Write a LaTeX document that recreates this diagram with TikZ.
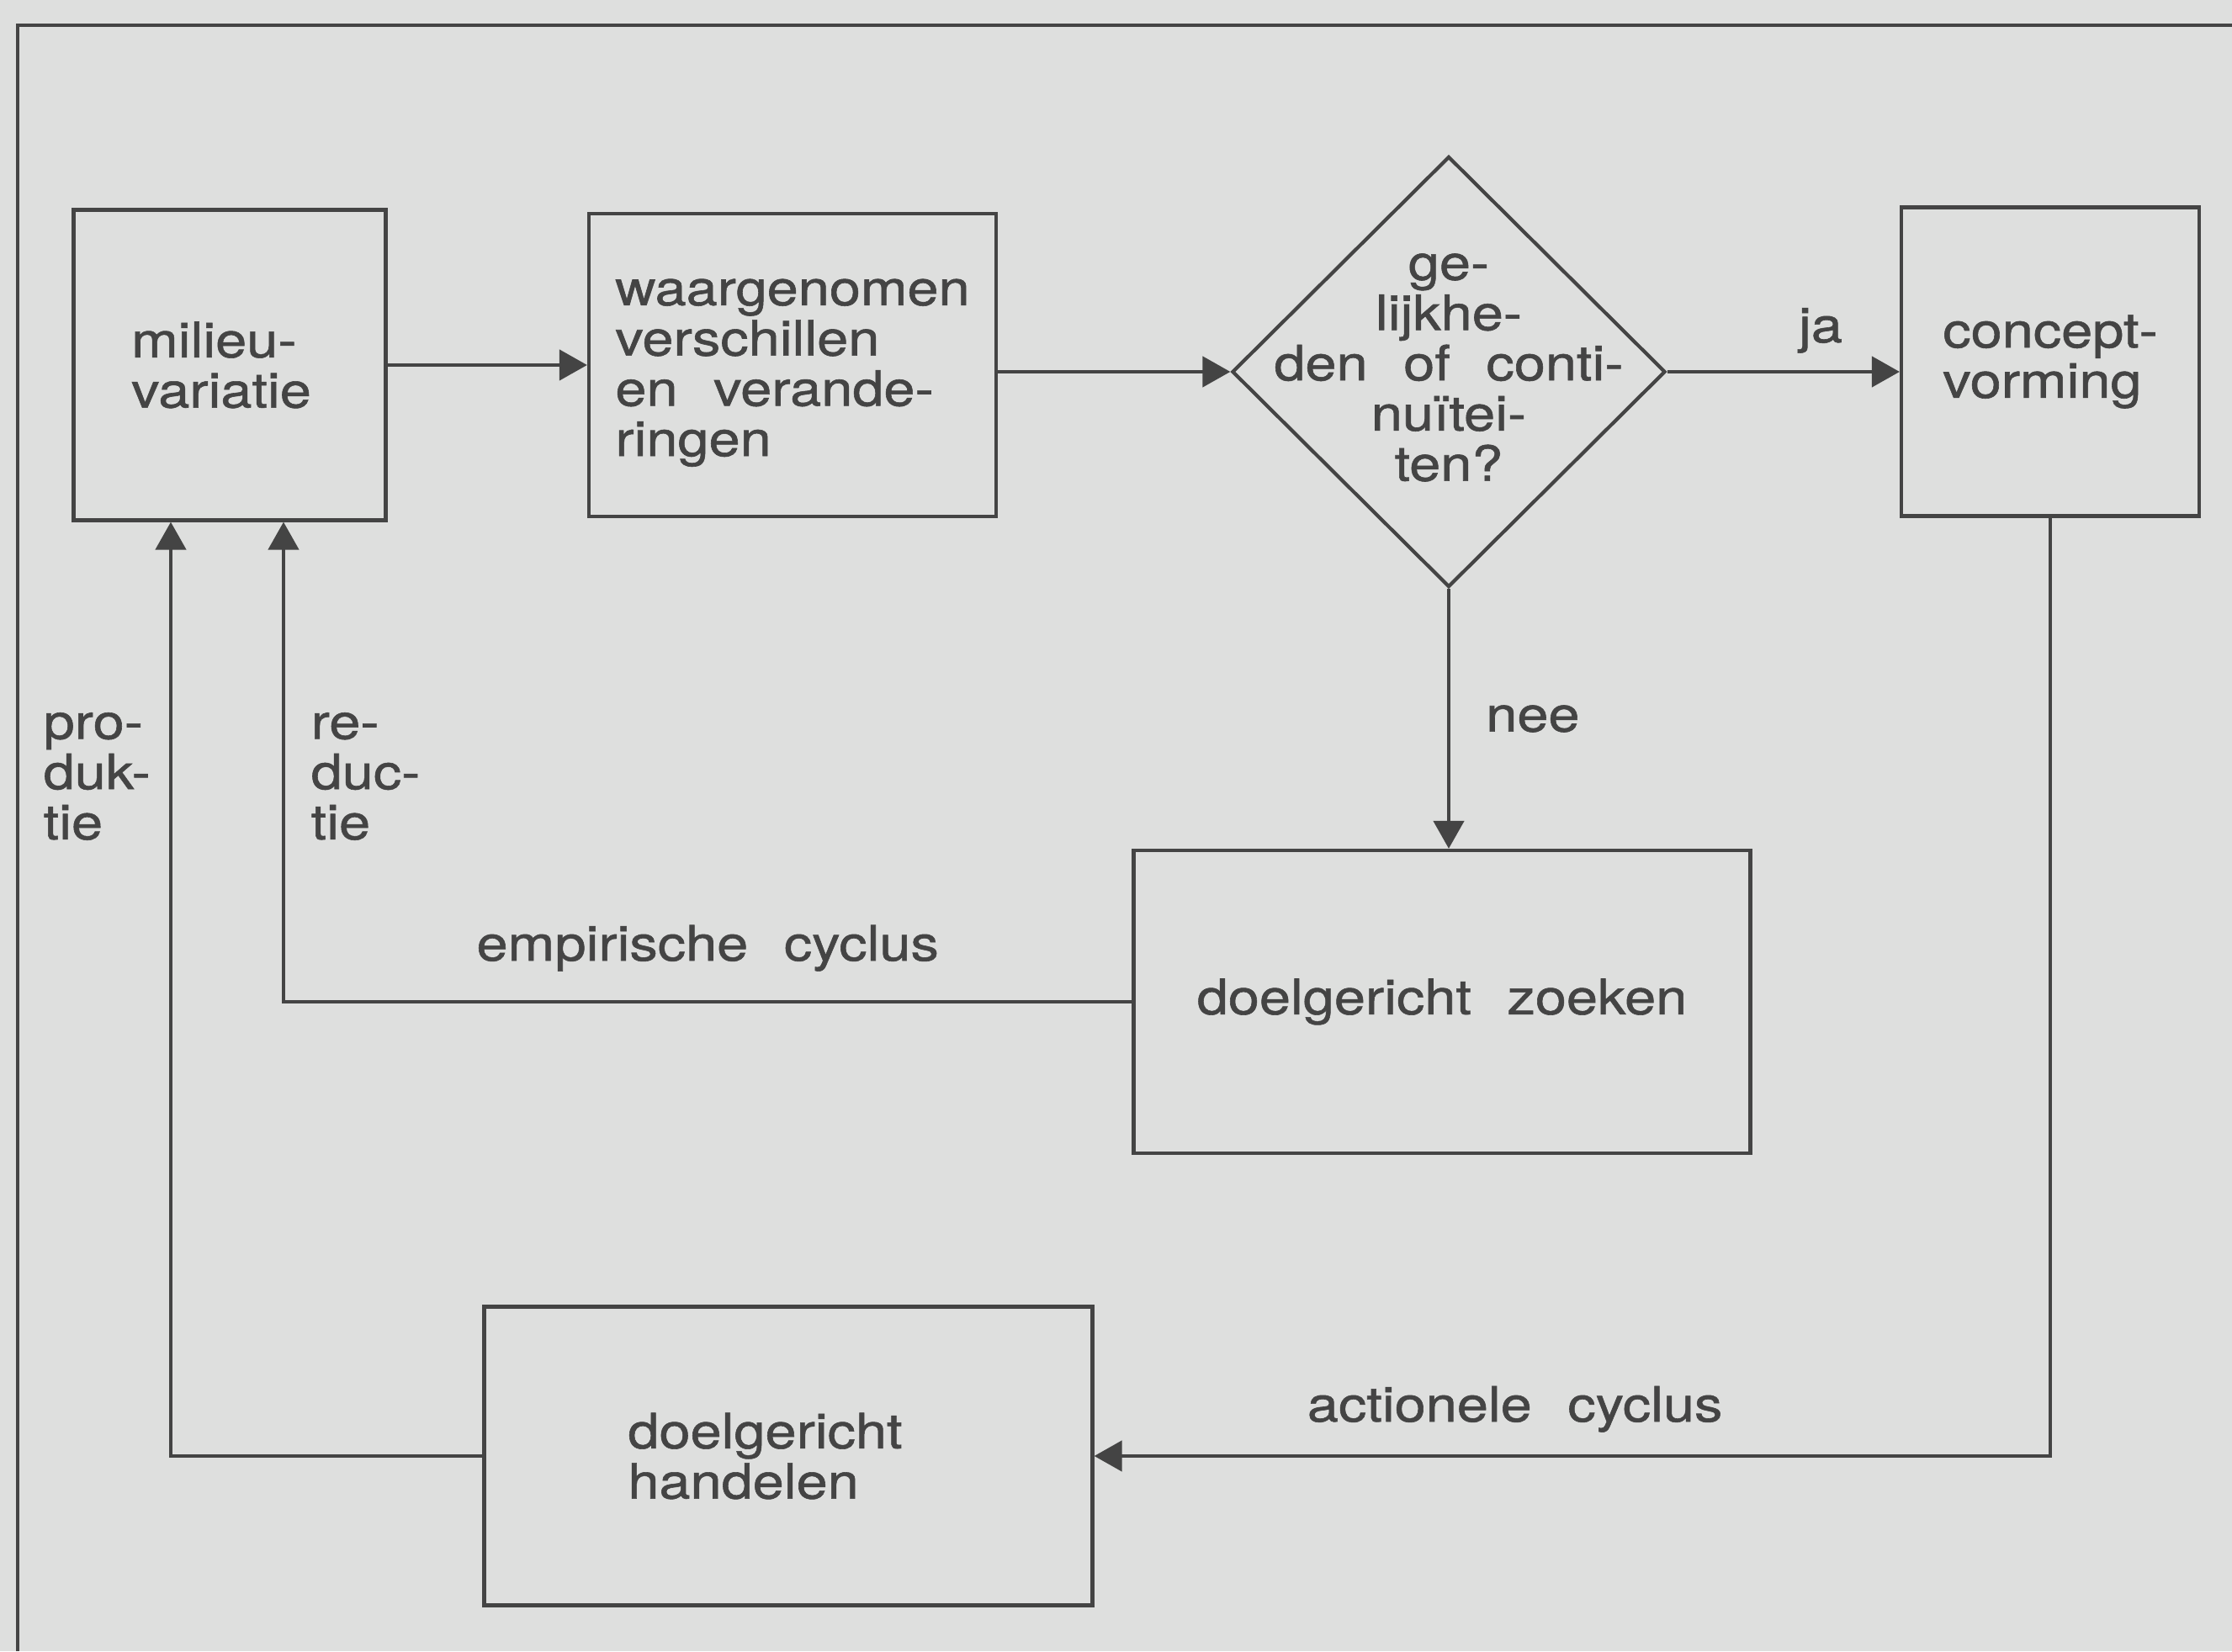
\documentclass[tikz,border=0pt]{standalone}
\usepackage{fontspec}
\setmainfont{TeX Gyre Heros}[FakeStretch=1.15, WordSpace=2.3, FakeBold=1]
\usetikzlibrary{arrows.meta,positioning,shapes.geometric,calc}
\definecolor{papercol}{RGB}{222,223,222}
\definecolor{inkcol}{RGB}{68,68,68}

\begin{document}
\begin{tikzpicture}[
    box/.style={draw=inkcol, line width=1.2pt, align=left, inner sep=0pt},
    decision/.style={draw=inkcol, line width=1.2pt, diamond, inner sep=0pt},
    flow/.style={draw=inkcol, line width=1.3pt, -{Triangle[length=3.3mm, width=3.6mm]}},
    lbl/.style={text=inkcol, inner sep=0pt},
    font=\fontsize{16.5}{17}\selectfont, text=inkcol,
]
\fill[papercol] (0,0) rectangle (26.53,19.63);
\useasboundingbox (0,0) rectangle (26.53,19.63);
\draw[inkcol, line width=1.3pt] (0.21,0) |- (26.53,19.33);

% bovenste rij
\node[box, minimum width=3.71cm, minimum height=3.69cm] (milieu) at (2.73,15.29) {milieu-\\variatie\hspace*{0.2cm}};
\node[box, minimum width=4.84cm, minimum height=3.60cm] (waarg)  at (9.42,15.29) {\\[-0.1cm]waargenomen\\verschillen\\en verande-\\ringen};
\node[decision, minimum width=5.15cm, minimum height=5.12cm] (gelijk) at (17.22,15.21) {};
\node[lbl, align=center] (gelijktxt) at ($(gelijk)+(0,0.05)$) {ge-\\lijkhe-\\den of conti-\\nuïtei-\\ten?};
\node[box, minimum width=3.54cm, minimum height=3.67cm] (concept) at (24.37,15.33) {concept-\\vorming};

% onderste boxen
\node[box, minimum width=7.33cm, minimum height=3.60cm] (zoeken)   at (17.14,7.72) {doelgericht zoeken};
\node[box, minimum width=7.23cm, minimum height=3.55cm] (handelen) at (9.37,2.32)  {doelgericht\hspace*{0.55cm}\\handelen};

\draw[flow] (milieu) -- (waarg);
\draw[flow] (waarg.east |- gelijk.west) -- (gelijk.west);
\draw[flow] (gelijk.east) -- node[lbl, above=0.2cm, pos=0.66] {ja} (gelijk.east -| concept.west);
\draw[flow] (gelijk.south) -- node[lbl, right=0.42cm] {nee} (gelijk.south |- zoeken.north);

% cycli
\draw[flow] (zoeken.west) -| node[lbl, pos=0.25, above=0.34cm] {empirische cyclus} ([xshift=0.64cm]milieu.south);
\draw[flow] (concept.south) |- node[lbl, pos=0.78, above=0.26cm] {actionele cyclus} (handelen.east);
\draw[flow] (handelen.west) -| ([xshift=-0.70cm]milieu.south);

\node[lbl, align=left, anchor=west] (produktie) at (0.51,10.40) {pro-\\duk-\\tie};
\node[lbl, align=left, anchor=west] (reductie)  at (3.69,10.40) {re-\\duc-\\tie};
\end{tikzpicture}
\end{document}
